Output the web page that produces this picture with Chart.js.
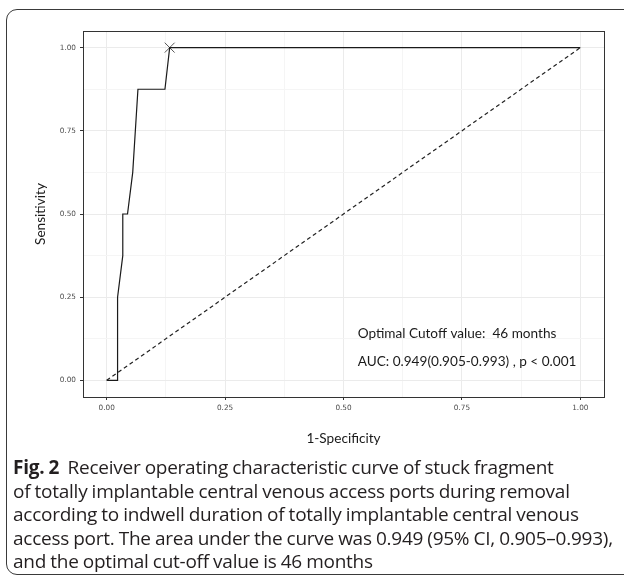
<!DOCTYPE html>
<html>
<head>
<meta charset="utf-8">
<script src="https://cdn.jsdelivr.net/npm/chart.js@4"></script>
<style>
  html, body { margin: 0; padding: 0; background: #fff; overflow: hidden; }
  #wrap { position: relative; width: 624px; height: 582px; }
  #frame {
    position: absolute; left: 6px; top: 9px; width: 640px; height: 566px;
    border: 1.4px solid #3a3a3a; border-radius: 11px; box-sizing: border-box;
  }
  canvas { position: absolute; left: 0; top: 0; }
  #caption {
    position: absolute; left: 13px; top: 456px; width: 620px; white-space: nowrap;
    font-family: "Open Sans", sans-serif; font-size: 19px; line-height: 23.6px;
    color: #231f20; letter-spacing: -0.25px; word-spacing: -0.5px;
  }
  #caption b { font-weight: 700; }
</style>
</head>
<body>
<div id="wrap">
  <div id="frame"></div>
  <canvas id="rocChart" width="624" height="582"></canvas>
  <div id="caption"><b>Fig. 2</b>&nbsp; Receiver operating characteristic curve of stuck fragment<br>of totally implantable central venous access ports during removal<br>according to indwell duration of totally implantable central venous<br>access port. The area under the curve was 0.949 (95% CI, 0.905–0.993),<br>and the optimal cut-off value is 46 months</div>
</div>
<script>
// ROC curve
const fpr = [0, 0.023, 0.023, 0.034, 0.034, 0.044, 0.055, 0.066, 0.123, 0.133, 1.0];
const tpr = [0, 0, 0.25, 0.375, 0.5, 0.5, 0.625, 0.875, 0.875, 1.0, 1.0];
const refX = [0, 1];
const refY = [0, 1];
const cutoffPoint = [0.133, 1.0];
const tickValues = [0, 0.125, 0.25, 0.375, 0.5, 0.625, 0.75, 0.875, 1];
const tickLabels = ['0.00', '', '0.25', '', '0.50', '', '0.75', '', '1.00'];
const noteLines = ['Optimal Cutoff value:  46 months', 'AUC: 0.949(0.905-0.993) , p < 0.001'];
const noteX = 0.53;
const noteY = [0.14, 0.055];

const ctx = document.getElementById('rocChart').getContext('2d');

function isMajor(v) {
    return Math.abs(v * 4 - Math.round(v * 4)) < 1e-6;
}

const panelPlugin = {
    id: 'panel',
    afterDraw(chart) {
        const a = chart.chartArea;
        const c = chart.ctx;
        c.save();
        c.strokeStyle = '#333';
        c.lineWidth = 1;
        c.strokeRect(Math.round(a.left) + 0.5, Math.round(a.top) + 0.5,
                     Math.round(a.right - a.left), Math.round(a.bottom - a.top));
        // annotation text
        c.fillStyle = '#1a1a1a';
        c.font = '13.6px Lato, "Open Sans", sans-serif';
        c.textBaseline = 'middle';
        const xs = chart.scales.x, ys = chart.scales.y;
        noteLines.forEach((t, i) => {
            c.fillText(t, xs.getPixelForValue(noteX), ys.getPixelForValue(noteY[i]));
        });
        c.restore();
    }
};

const gridOpts = {
    color: ctx => isMajor(ctx.tick.value) ? '#ebebeb' : '#f5f5f5',
    lineWidth: 1,
    drawTicks: true,
    tickLength: 3,
    tickColor: ctx => isMajor(ctx.tick.value) ? '#333' : 'rgba(0,0,0,0)'
};

new Chart(ctx, {
    type: 'scatter',
    data: {
        datasets: [
            {
                data: refX.map((x, i) => ({ x: x, y: refY[i] })),
                showLine: true,
                borderColor: '#222',
                borderWidth: 1.2,
                borderDash: [4, 3],
                pointRadius: 0
            },
            {
                data: fpr.map((x, i) => ({ x: x, y: tpr[i] })),
                showLine: true,
                borderColor: '#1a1a1a',
                borderWidth: 1.2,
                pointRadius: 0
            },
            {
                data: [{ x: cutoffPoint[0], y: cutoffPoint[1] }],
                pointStyle: 'crossRot',
                pointRadius: 7,
                borderColor: '#555',
                borderWidth: 1,
                showLine: false
            }
        ]
    },
    options: {
        responsive: false,
        animation: false,
        layout: { padding: { left: 30, top: 31, right: 20, bottom: 135 } },
        plugins: { legend: { display: false }, tooltip: { enabled: false } },
        scales: {
            x: {
                type: 'linear', min: -0.05, max: 1.05,
                afterBuildTicks: s => { s.ticks = tickValues.map(v => ({ value: v })); },
                afterFit: s => { s.height = 50; },
                grid: gridOpts,
                border: { display: false },
                ticks: {
                    callback: (v, i) => tickLabels[i],
                    color: '#4d4d4d', font: { family: '"DejaVu Sans"', size: 7.3 },
                    maxRotation: 0, autoSkip: false, padding: 4
                },
                title: {
                    display: true, text: '1-Specificity', color: '#1a1a1a',
                    font: { family: 'Lato, "Open Sans", sans-serif', size: 13.6 },
                    padding: { top: 5, bottom: 0 }
                }
            },
            y: {
                type: 'linear', min: -0.05, max: 1.05,
                afterBuildTicks: s => { s.ticks = tickValues.map(v => ({ value: v })); },
                afterFit: s => { s.width = 53; },
                grid: gridOpts,
                border: { display: false },
                ticks: {
                    callback: (v, i) => tickLabels[i],
                    color: '#4d4d4d', font: { family: '"DejaVu Sans"', size: 7.3 },
                    autoSkip: false, padding: 4
                },
                title: {
                    display: true, text: 'Sensitivity', color: '#1a1a1a',
                    font: { family: 'Lato, "Open Sans", sans-serif', size: 13.6 },
                    padding: { top: 2, bottom: 0 }
                }
            }
        }
    },
    plugins: [panelPlugin]
});
</script>
</body>
</html>
